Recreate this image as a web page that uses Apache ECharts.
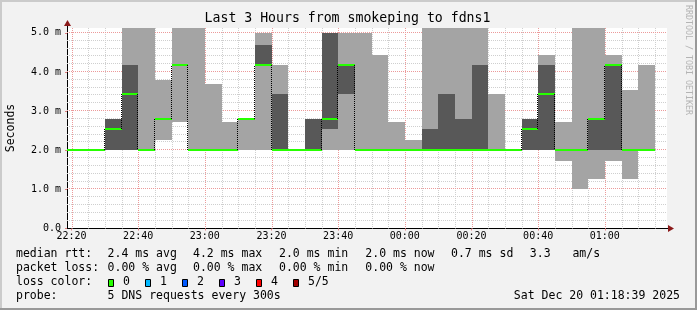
<!DOCTYPE html>
<html><head><meta charset="utf-8">
<script src="https://cdn.jsdelivr.net/npm/echarts@6/dist/echarts.min.js"></script>
<style>html,body{margin:0;padding:0;background:#f2f2f2;}#c{width:697px;height:310px;}</style>
</head><body><div id="c"></div>
<script>
// ---- data (5-minute steps, start time of each step) ----
const stepStarts = ['22:15','22:20','22:25','22:30','22:35','22:40','22:45','22:50','22:55',
  '23:00','23:05','23:10','23:15','23:20','23:25','23:30','23:35','23:40','23:45','23:50','23:55',
  '00:00','00:05','00:10','00:15','00:20','00:25','00:30','00:35','00:40','00:45','00:50','00:55',
  '01:00','01:05','01:10','01:15'];
// sorted ping rtts (ms): ping1 (min) .. ping5 (max), median = ping3
const ping1  = [2.0,2.0,2.0,2.0,2.0,2.0,2.25,2.72,2.0, 2.0,2.0,2.0,2.0,2.0,2.0,2.0,2.0,2.0,2.0,2.0,2.0, 2.0,2.0,2.0,2.0,2.0,2.0,2.0,2.0,2.0,1.73,1.01,1.27, 1.73,1.27,2.0,null];
const ping2  = [2.0,2.0,2.0,2.0,2.0,2.0,2.79,4.17,2.0, 2.0,2.0,2.79,4.17,2.0,2.0,2.0,2.54,3.43,2.0,2.0,2.0, 2.0,2.0,2.0,2.0,2.0,2.0,2.0,2.0,2.0,2.0,2.0,2.0, 2.0,2.0,2.0,null];
const median = [2.0,2.0,2.0,2.54,3.44,2.0,2.79,4.17,2.0, 2.0,2.0,2.79,4.17,2.0,2.0,2.0,2.79,4.17,2.0,2.0,2.0, 2.0,2.0,2.0,2.0,2.0,2.0,2.0,2.54,3.44,2.0,2.0,2.79, 4.17,2.0,2.0,null];
const ping4  = [2.0,2.0,2.0,2.79,4.17,2.0,2.79,4.17,2.0, 2.0,2.0,2.79,4.70,3.43,2.0,2.79,5.0,4.17,2.0,2.0,2.0, 2.0,2.54,3.43,2.79,4.17,2.0,2.0,2.79,4.17,2.0,2.0,2.79, 4.17,2.0,2.0,null];
const ping5  = [2.0,2.0,2.0,2.79,5.6,5.6,3.79,5.6,5.6, 3.70,2.72,2.79,5.0,4.17,2.0,2.79,5.0,5.0,5.0,4.43,2.72, 2.25,5.6,5.6,5.6,5.6,3.43,2.0,2.79,4.43,2.72,5.6,5.6, 4.43,3.53,4.17,null];
const stepMinutes = 5;
const rangeStart = '22:18:39', rangeEnd = '01:18:39';
const xTickLabels = ['22:20','22:40','23:00','23:20','23:40','00:00','00:20','00:40','01:00'];
const yTickValues = [0,1,2,3,4,5];
const yTickLabels = ['0.0','1.0 m','2.0 m','3.0 m','4.0 m','5.0 m'];
const yMaxValue = 5.125;

// ---- helpers ----
function toMin(t){ const p=t.split(':').map(Number); let h=p[0]; if(h<12) h+=24; return (h-22)*60+p[1]+(p[2]||0)/60; }
const xMin = toMin(rangeStart), xMax = toMin(rangeEnd);
const xTickPos = xTickLabels.map(toMin);
const FONT = 'DejaVu Sans Mono';

const stepData = stepStarts.map((t,i)=>{const s=toMin(t); return [s, s+stepMinutes, ping1[i], ping2[i], median[i], ping4[i], ping5[i]];})
  .filter(d=>d[4]!==null);

// grid line positions
const gridData = [];
for (let m = 20; m <= 195; m += 5) gridData.push([m, 0, 1, (m % 20 === 0) ? 1 : 0]);
for (let k = 1; k <= 25; k++) { const v = k/5; gridData.push([xMin + 1, v, 0, (k % 5 === 0) ? 1 : 0]); }

function clipR(cs){ return {x: cs.x, y: cs.y, width: cs.width, height: cs.height}; }

const chart = echarts.init(document.getElementById('c'), null, {renderer:'canvas', width:697, height:310});

const legendTexts = [
  ['median rtt:', 16, 254.5], ['2.4 ms avg', 107.6, 254.5], ['4.2 ms max', 193, 254.5], ['2.0 ms min', 279, 254.5],
  ['2.0 ms now', 365.3, 254.5], ['0.7 ms sd', 451, 254.5], ['3.3', 529.8, 254.5], ['am/s', 572.4, 254.5],
  ['packet loss:', 16, 268.3], ['0.00 % avg', 107.6, 268.3], ['0.00 % max', 193, 268.3], ['0.00 % min', 279, 268.3], ['0.00 % now', 365.3, 268.3],
  ['loss color:', 16, 282.3],
  ['probe:', 16, 296], ['5 DNS requests every 300s', 107.6, 296]
];
const lossColors = ['#26ff00','#00b8ff','#0059ff','#5e00ff','#ff0000','#a10000'];
const lossLabels = ['0','1','2','3','4','5/5'];
const lossBoxX = [108,145,182,219,256,293];

const graphics = [
  {type:'rect', shape:{x:0,y:0,width:697,height:2}, style:{fill:'#cbcbcb'}, silent:true},
  {type:'rect', shape:{x:0,y:0,width:2,height:310}, style:{fill:'#cbcbcb'}, silent:true},
  {type:'rect', shape:{x:0,y:308,width:697,height:2}, style:{fill:'#999999'}, silent:true},
  {type:'rect', shape:{x:695,y:0,width:2,height:310}, style:{fill:'#999999'}, silent:true},
  {type:'text', x:347.5, y:19, style:{text:'Last 3 Hours from smokeping to fdns1', font:'13.2px "DejaVu Sans Mono"', fill:'#000', align:'center', verticalAlign:'middle', textAlign:'center', textVerticalAlign:'middle'}},
  {type:'text', x:11, y:128, rotation:Math.PI/2, style:{text:'Seconds', font:'11.5px "DejaVu Sans Mono"', fill:'#000', align:'center', verticalAlign:'middle', textAlign:'center', textVerticalAlign:'middle'}},
  {type:'text', x:688, y:60, rotation:-Math.PI/2, style:{text:'RRDTOOL / TOBI OETIKER', font:'8.3px "DejaVu Sans Mono"', fill:'#b4b4b4', align:'center', verticalAlign:'middle', textAlign:'center', textVerticalAlign:'middle'}},
  // axis extensions & arrows
  {type:'line', shape:{x1:67.5,y1:28,x2:67.5,y2:24}, style:{stroke:'#000', lineWidth:1}},
  {type:'polygon', shape:{points:[[64,26],[71,26],[67.5,20]]}, style:{fill:'#8b1a1a'}},
  {type:'line', shape:{x1:667,y1:228.5,x2:670,y2:228.5}, style:{stroke:'#000', lineWidth:1}},
  {type:'polygon', shape:{points:[[668,225],[668,232],[674,228.5]]}, style:{fill:'#8b1a1a'}},
  {type:'text', x:680, y:296, style:{text:'Sat Dec 20 01:18:39 2025', font:'11.5px "DejaVu Sans Mono"', fill:'#000', align:'right', verticalAlign:'middle', textAlign:'right', textVerticalAlign:'middle'}}
];
legendTexts.forEach(t=>graphics.push({type:'text', x:t[1], y:t[2], style:{text:t[0], font:'11.5px "DejaVu Sans Mono"', fill:'#000', align:'left', verticalAlign:'middle', textAlign:'left', textVerticalAlign:'middle'}}));
lossColors.forEach((c,i)=>{
  graphics.push({type:'rect', shape:{x:lossBoxX[i]+0.5, y:279.5, width:5, height:7}, style:{fill:c, stroke:'#000', lineWidth:1}});
  graphics.push({type:'text', x:lossBoxX[i]+15, y:282.3, style:{text:lossLabels[i], font:'11.5px "DejaVu Sans Mono"', fill:'#000', align:'left', verticalAlign:'middle', textAlign:'left', textVerticalAlign:'middle'}});
});

const option = {
  animation:false,
  backgroundColor:'#f2f2f2',
  grid:{left:67, top:28, width:600, height:200.5, show:true, backgroundColor:'#ffffff', borderWidth:0},
  xAxis:{type:'value', min:xMin, max:xMax, splitLine:{show:false},
    axisLine:{show:true, lineStyle:{color:'#000', width:1}},
    axisTick:{show:true, customValues:xTickPos, length:2, lineStyle:{color:'#e08080'}},
    axisLabel:{customValues:xTickPos, formatter:v=>{const i=xTickPos.findIndex(p=>Math.abs(p-v)<1e-6); return i>=0?xTickLabels[i]:'';},
      fontFamily:FONT, fontSize:10, color:'#000', margin:3}},
  yAxis:{type:'value', min:0, max:yMaxValue, splitLine:{show:false},
    axisLine:{show:true, lineStyle:{color:'#000', width:1}},
    axisTick:{show:true, customValues:yTickValues, length:2, lineStyle:{color:'#e08080'}},
    axisLabel:{customValues:yTickValues, formatter:v=>{const i=yTickValues.indexOf(v); return i>=0?yTickLabels[i]:'';},
      fontFamily:FONT, fontSize:10, color:'#000', margin:6}},
  series:[
    {type:'custom', z:1, silent:true, data:gridData, encode:{x:0,y:1},
     renderItem:(params, api)=>{
       const cs = params.coordSys; const isX = api.value(2)===1; const major = api.value(3)===1;
       let shape;
       if (isX) { const p = api.coord([api.value(0), 0]); const x = Math.round(p[0])+0.5; shape={x1:x,y1:cs.y,x2:x,y2:cs.y+cs.height}; }
       else { const p = api.coord([xMin, api.value(1)]); const y = Math.round(p[1])-0.5; shape={x1:cs.x,y1:y,x2:cs.x+cs.width,y2:y}; }
       return {type:'line', shape, style:{stroke: major?'#ec9a9a':'#cfcfcf', lineWidth:1, lineDash:[1,1]}};
     }},
    {type:'custom', z:2, silent:true, data:stepData, encode:{x:[0,1], y:[2,3,4,5,6]},
     renderItem:(params, api)=>{
       const cs = params.coordSys; const s = api.value(0), e = api.value(1);
       const mk = (lo, hi, color)=>{
         if (!(hi > lo)) return null;
         const a = api.coord([s, hi]), b = api.coord([e, lo]);
         const x0=Math.round(a[0]), x1=Math.round(b[0]), y0=Math.round(a[1]), y1=Math.round(b[1]);
         const r = echarts.graphic.clipRectByRect({x:x0,y:y0,width:x1-x0,height:y1-y0}, clipR(cs));
         return r && r.width>0 && r.height>0 ? {type:'rect', shape:r, style:{fill:color}} : null;
       };
       const children = [mk(api.value(2), api.value(6), '#a4a4a4'), mk(api.value(3), api.value(5), '#585858')].filter(Boolean);
       return {type:'group', children};
     }},
    {type:'custom', z:3, silent:true, data:stepData, encode:{x:[0,1], y:[4]},
     renderItem:(params, api)=>{
       const cs = params.coordSys; const i = params.dataIndex;
       const s = api.value(0), e = api.value(1), m = api.value(4);
       const a = api.coord([s, m]), b = api.coord([e, m]);
       const children = [];
       if (i > 0) {
         const pm = stepData[i-1][4];
         if (pm !== m && a[0] >= cs.x) {
           const pp = api.coord([s, pm]); const x = Math.round(a[0]) - 0.5;
           children.push({type:'line', shape:{x1:x, y1:Math.round(pp[1]), x2:x, y2:Math.round(a[1])}, style:{stroke:'#000', lineWidth:1, lineDash:[1,1]}});
         }
       }
       const x0=Math.round(a[0]), x1=Math.round(b[0]), y=Math.round(a[1]);
       const r = echarts.graphic.clipRectByRect({x:x0, y:y-1, width:x1-x0, height:2}, clipR(cs));
       if (r) children.push({type:'rect', shape:r, style:{fill:'#26ff00'}});
       return {type:'group', children};
     }}
  ],
  graphic: graphics
};
chart.setOption(option);
</script></body></html>
